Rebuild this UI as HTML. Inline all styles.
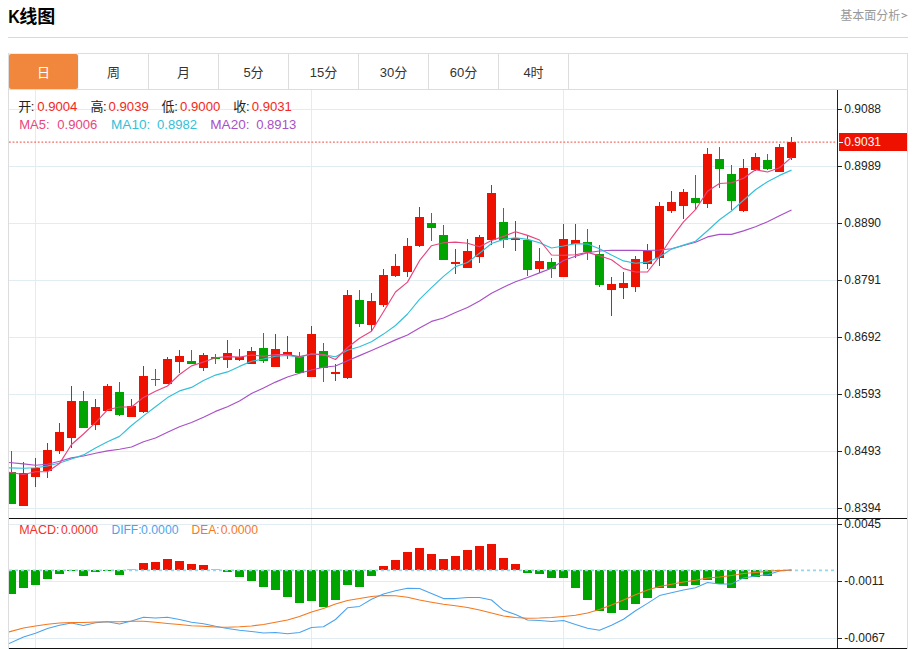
<!DOCTYPE html>
<html><head><meta charset="utf-8"><title>K线图</title>
<style>html,body{margin:0;padding:0;background:#fff;width:915px;height:649px;overflow:hidden;font-family:"Liberation Sans",sans-serif}</style>
</head><body>
<svg width="915" height="649" viewBox="0 0 915 649" style="position:absolute;left:0;top:0;display:block">
<defs>
<clipPath id="cm"><rect x="9" y="90" width="828" height="428"/></clipPath>
<clipPath id="cd"><rect x="9" y="519" width="828" height="129"/></clipPath>
</defs>
<rect width="915" height="649" fill="#fff"/>
<text x="8.30" y="23.40" font-family="Liberation Sans, sans-serif" font-size="18.5px" font-weight="bold" fill="#000" text-anchor="start" textLength="11.6" lengthAdjust="spacingAndGlyphs">K</text>
<text x="19.30" y="23.20" font-family="'Liberation Sans', 'Noto Sans CJK SC', sans-serif" font-size="18px" font-weight="bold" fill="#000" text-anchor="start">线图</text>
<text x="840.30" y="19.90" font-family="'Liberation Sans', 'Noto Sans CJK SC', sans-serif" font-size="12px" fill="#999" text-anchor="start">基本面分析</text>
<polyline points="901.6,13.2 906.6,15.5 901.6,17.8" fill="none" stroke="#999" stroke-width="1.1"/>
<g shape-rendering="crispEdges">
<rect x="8" y="37" width="900" height="1" fill="#d9d9d9"/>
<rect x="8.5" y="53.5" width="899" height="595" fill="none" stroke="#dddddd"/>
<rect x="8" y="89" width="900" height="1" fill="#dddddd"/>
<rect x="78" y="54" width="1" height="35" fill="#dddddd"/>
<rect x="148" y="54" width="1" height="35" fill="#dddddd"/>
<rect x="218" y="54" width="1" height="35" fill="#dddddd"/>
<rect x="288" y="54" width="1" height="35" fill="#dddddd"/>
<rect x="358" y="54" width="1" height="35" fill="#dddddd"/>
<rect x="428" y="54" width="1" height="35" fill="#dddddd"/>
<rect x="498" y="54" width="1" height="35" fill="#dddddd"/>
<rect x="568" y="54" width="1" height="35" fill="#dddddd"/>
</g>
<rect x="9" y="53" width="69" height="1" fill="#e6eef5" shape-rendering="crispEdges"/><rect x="78" y="54" width="1" height="35" fill="#eef3f7" shape-rendering="crispEdges"/><rect x="9" y="54" width="69" height="35" rx="2" fill="#f0873d"/>
<text x="37.00" y="76.60" font-family="'Liberation Sans', 'Noto Sans CJK SC', sans-serif" font-size="13px" fill="#fff" text-anchor="start">日</text>
<text x="107.00" y="76.60" font-family="'Liberation Sans', 'Noto Sans CJK SC', sans-serif" font-size="13px" fill="#333" text-anchor="start">周</text>
<text x="177.00" y="76.60" font-family="'Liberation Sans', 'Noto Sans CJK SC', sans-serif" font-size="13px" fill="#333" text-anchor="start">月</text>
<text x="243.38" y="77.00" font-family="Liberation Sans, sans-serif" font-size="13px" font-weight="normal" fill="#333" text-anchor="start">5</text>
<text x="250.61" y="76.60" font-family="'Liberation Sans', 'Noto Sans CJK SC', sans-serif" font-size="13px" fill="#333" text-anchor="start">分</text>
<text x="309.77" y="77.00" font-family="Liberation Sans, sans-serif" font-size="13px" font-weight="normal" fill="#333" text-anchor="start">15</text>
<text x="324.23" y="76.60" font-family="'Liberation Sans', 'Noto Sans CJK SC', sans-serif" font-size="13px" fill="#333" text-anchor="start">分</text>
<text x="379.77" y="77.00" font-family="Liberation Sans, sans-serif" font-size="13px" font-weight="normal" fill="#333" text-anchor="start">30</text>
<text x="394.23" y="76.60" font-family="'Liberation Sans', 'Noto Sans CJK SC', sans-serif" font-size="13px" fill="#333" text-anchor="start">分</text>
<text x="449.77" y="77.00" font-family="Liberation Sans, sans-serif" font-size="13px" font-weight="normal" fill="#333" text-anchor="start">60</text>
<text x="464.23" y="76.60" font-family="'Liberation Sans', 'Noto Sans CJK SC', sans-serif" font-size="13px" fill="#333" text-anchor="start">分</text>
<text x="523.38" y="77.00" font-family="Liberation Sans, sans-serif" font-size="13px" font-weight="normal" fill="#333" text-anchor="start">4</text>
<text x="530.62" y="76.60" font-family="'Liberation Sans', 'Noto Sans CJK SC', sans-serif" font-size="13px" fill="#333" text-anchor="start">时</text>
<g shape-rendering="crispEdges">
<rect x="9" y="109" width="828" height="1" fill="#e2ecf3"/>
<rect x="9" y="166" width="828" height="1" fill="#e2ecf3"/>
<rect x="9" y="223" width="828" height="1" fill="#e2ecf3"/>
<rect x="9" y="280" width="828" height="1" fill="#e2ecf3"/>
<rect x="9" y="337" width="828" height="1" fill="#e2ecf3"/>
<rect x="9" y="394" width="828" height="1" fill="#e2ecf3"/>
<rect x="9" y="451" width="828" height="1" fill="#e2ecf3"/>
<rect x="9" y="508" width="828" height="1" fill="#e2ecf3"/>
<rect x="9" y="524" width="828" height="1" fill="#e2ecf3"/>
<rect x="9" y="581" width="828" height="1" fill="#e2ecf3"/>
<rect x="9" y="638" width="828" height="1" fill="#e2ecf3"/>
<rect x="35" y="90" width="1" height="558" fill="#e2ecf3"/>
<rect x="311" y="90" width="1" height="558" fill="#e2ecf3"/>
<rect x="563" y="90" width="1" height="558" fill="#e2ecf3"/>
</g>
<g shape-rendering="crispEdges" clip-path="url(#cm)">
<rect x="11" y="451" width="1" height="53" fill="#00a400"/>
<rect x="7" y="472" width="9" height="32" fill="#00a400"/>
<rect x="23" y="462" width="1" height="44" fill="#ee1100"/>
<rect x="19" y="473" width="9" height="33" fill="#ee1100"/>
<rect x="35" y="458" width="1" height="29" fill="#ee1100"/>
<rect x="31" y="468" width="9" height="9" fill="#ee1100"/>
<rect x="47" y="443" width="1" height="35" fill="#ee1100"/>
<rect x="43" y="450" width="9" height="21" fill="#ee1100"/>
<rect x="59" y="423" width="1" height="31" fill="#ee1100"/>
<rect x="55" y="432" width="9" height="19" fill="#ee1100"/>
<rect x="71" y="386" width="1" height="62" fill="#ee1100"/>
<rect x="67" y="401" width="9" height="37" fill="#ee1100"/>
<rect x="83" y="391" width="1" height="37" fill="#00a400"/>
<rect x="79" y="401" width="9" height="27" fill="#00a400"/>
<rect x="95" y="399" width="1" height="31" fill="#ee1100"/>
<rect x="91" y="407" width="9" height="18" fill="#ee1100"/>
<rect x="107" y="384" width="1" height="27" fill="#ee1100"/>
<rect x="103" y="386" width="9" height="25" fill="#ee1100"/>
<rect x="119" y="382" width="1" height="34" fill="#00a400"/>
<rect x="115" y="392" width="9" height="23" fill="#00a400"/>
<rect x="131" y="399" width="1" height="18" fill="#ee1100"/>
<rect x="127" y="406" width="9" height="11" fill="#ee1100"/>
<rect x="143" y="366" width="1" height="47" fill="#ee1100"/>
<rect x="139" y="376" width="9" height="36" fill="#ee1100"/>
<rect x="155" y="369" width="1" height="17" fill="#00a400"/>
<rect x="151" y="379" width="9" height="1" fill="#00a400"/>
<rect x="167" y="357" width="1" height="27" fill="#ee1100"/>
<rect x="163" y="359" width="9" height="25" fill="#ee1100"/>
<rect x="179" y="350" width="1" height="23" fill="#ee1100"/>
<rect x="175" y="356" width="9" height="6" fill="#ee1100"/>
<rect x="191" y="350" width="1" height="14" fill="#00a400"/>
<rect x="187" y="361" width="9" height="3" fill="#00a400"/>
<rect x="203" y="353" width="1" height="18" fill="#ee1100"/>
<rect x="199" y="355" width="9" height="13" fill="#ee1100"/>
<rect x="215" y="354" width="1" height="10" fill="#00a400"/>
<rect x="211" y="357" width="9" height="2" fill="#00a400"/>
<rect x="227" y="340" width="1" height="28" fill="#ee1100"/>
<rect x="223" y="353" width="9" height="7" fill="#ee1100"/>
<rect x="239" y="349" width="1" height="12" fill="#ee1100"/>
<rect x="235" y="357" width="9" height="3" fill="#ee1100"/>
<rect x="251" y="347" width="1" height="17" fill="#ee1100"/>
<rect x="247" y="351" width="9" height="13" fill="#ee1100"/>
<rect x="263" y="333" width="1" height="30" fill="#00a400"/>
<rect x="259" y="348" width="9" height="13" fill="#00a400"/>
<rect x="275" y="334" width="1" height="33" fill="#ee1100"/>
<rect x="271" y="349" width="9" height="18" fill="#ee1100"/>
<rect x="287" y="336" width="1" height="23" fill="#ee1100"/>
<rect x="283" y="352" width="9" height="3" fill="#ee1100"/>
<rect x="299" y="352" width="1" height="21" fill="#00a400"/>
<rect x="295" y="356" width="9" height="17" fill="#00a400"/>
<rect x="311" y="326" width="1" height="51" fill="#ee1100"/>
<rect x="307" y="334" width="9" height="43" fill="#ee1100"/>
<rect x="323" y="343" width="1" height="39" fill="#00a400"/>
<rect x="319" y="351" width="9" height="17" fill="#00a400"/>
<rect x="335" y="364" width="1" height="17" fill="#ee1100"/>
<rect x="331" y="372" width="9" height="2" fill="#ee1100"/>
<rect x="347" y="290" width="1" height="89" fill="#ee1100"/>
<rect x="343" y="295" width="9" height="83" fill="#ee1100"/>
<rect x="359" y="290" width="1" height="37" fill="#00a400"/>
<rect x="355" y="300" width="9" height="24" fill="#00a400"/>
<rect x="371" y="293" width="1" height="38" fill="#ee1100"/>
<rect x="367" y="301" width="9" height="24" fill="#ee1100"/>
<rect x="383" y="269" width="1" height="38" fill="#ee1100"/>
<rect x="379" y="275" width="9" height="30" fill="#ee1100"/>
<rect x="395" y="254" width="1" height="23" fill="#ee1100"/>
<rect x="391" y="266" width="9" height="10" fill="#ee1100"/>
<rect x="407" y="238" width="1" height="39" fill="#ee1100"/>
<rect x="403" y="246" width="9" height="26" fill="#ee1100"/>
<rect x="419" y="207" width="1" height="40" fill="#ee1100"/>
<rect x="415" y="217" width="9" height="29" fill="#ee1100"/>
<rect x="431" y="213" width="1" height="28" fill="#00a400"/>
<rect x="427" y="223" width="9" height="5" fill="#00a400"/>
<rect x="443" y="225" width="1" height="35" fill="#00a400"/>
<rect x="439" y="235" width="9" height="25" fill="#00a400"/>
<rect x="455" y="249" width="1" height="25" fill="#ee1100"/>
<rect x="451" y="262" width="9" height="2" fill="#ee1100"/>
<rect x="467" y="239" width="1" height="29" fill="#ee1100"/>
<rect x="463" y="251" width="9" height="17" fill="#ee1100"/>
<rect x="479" y="235" width="1" height="28" fill="#ee1100"/>
<rect x="475" y="237" width="9" height="20" fill="#ee1100"/>
<rect x="491" y="185" width="1" height="60" fill="#ee1100"/>
<rect x="487" y="193" width="9" height="47" fill="#ee1100"/>
<rect x="503" y="208" width="1" height="40" fill="#00a400"/>
<rect x="499" y="222" width="9" height="18" fill="#00a400"/>
<rect x="515" y="221" width="1" height="30" fill="#ee1100"/>
<rect x="511" y="238" width="9" height="2" fill="#ee1100"/>
<rect x="527" y="236" width="1" height="40" fill="#00a400"/>
<rect x="523" y="240" width="9" height="30" fill="#00a400"/>
<rect x="539" y="248" width="1" height="25" fill="#ee1100"/>
<rect x="535" y="261" width="9" height="8" fill="#ee1100"/>
<rect x="551" y="258" width="1" height="20" fill="#00a400"/>
<rect x="547" y="262" width="9" height="7" fill="#00a400"/>
<rect x="563" y="224" width="1" height="53" fill="#ee1100"/>
<rect x="559" y="239" width="9" height="38" fill="#ee1100"/>
<rect x="575" y="224" width="1" height="34" fill="#ee1100"/>
<rect x="571" y="240" width="9" height="4" fill="#ee1100"/>
<rect x="587" y="229" width="1" height="31" fill="#00a400"/>
<rect x="583" y="242" width="9" height="10" fill="#00a400"/>
<rect x="599" y="245" width="1" height="42" fill="#00a400"/>
<rect x="595" y="254" width="9" height="31" fill="#00a400"/>
<rect x="611" y="277" width="1" height="39" fill="#ee1100"/>
<rect x="607" y="284" width="9" height="6" fill="#ee1100"/>
<rect x="623" y="272" width="1" height="27" fill="#ee1100"/>
<rect x="619" y="283" width="9" height="5" fill="#ee1100"/>
<rect x="635" y="256" width="1" height="36" fill="#ee1100"/>
<rect x="631" y="259" width="9" height="28" fill="#ee1100"/>
<rect x="647" y="244" width="1" height="25" fill="#ee1100"/>
<rect x="643" y="251" width="9" height="13" fill="#ee1100"/>
<rect x="659" y="202" width="1" height="64" fill="#ee1100"/>
<rect x="655" y="206" width="9" height="52" fill="#ee1100"/>
<rect x="671" y="191" width="1" height="22" fill="#ee1100"/>
<rect x="667" y="202" width="9" height="9" fill="#ee1100"/>
<rect x="683" y="189" width="1" height="30" fill="#ee1100"/>
<rect x="679" y="192" width="9" height="14" fill="#ee1100"/>
<rect x="695" y="175" width="1" height="35" fill="#00a400"/>
<rect x="691" y="198" width="9" height="5" fill="#00a400"/>
<rect x="707" y="148" width="1" height="60" fill="#ee1100"/>
<rect x="703" y="154" width="9" height="50" fill="#ee1100"/>
<rect x="719" y="147" width="1" height="41" fill="#00a400"/>
<rect x="715" y="159" width="9" height="10" fill="#00a400"/>
<rect x="731" y="165" width="1" height="45" fill="#00a400"/>
<rect x="727" y="174" width="9" height="27" fill="#00a400"/>
<rect x="743" y="159" width="1" height="53" fill="#ee1100"/>
<rect x="739" y="168" width="9" height="43" fill="#ee1100"/>
<rect x="755" y="153" width="1" height="18" fill="#ee1100"/>
<rect x="751" y="157" width="9" height="13" fill="#ee1100"/>
<rect x="767" y="154" width="1" height="16" fill="#00a400"/>
<rect x="763" y="160" width="9" height="9" fill="#00a400"/>
<rect x="779" y="144" width="1" height="28" fill="#ee1100"/>
<rect x="775" y="147" width="9" height="25" fill="#ee1100"/>
<rect x="791" y="137" width="1" height="23" fill="#ee1100"/>
<rect x="787" y="142" width="9" height="16" fill="#ee1100"/>
</g>
<polyline points="9.0,462.5 23.5,463.9 35.5,465.3 47.5,464.3 59.5,461.3 71.5,457.9 83.5,456.0 95.5,453.2 107.5,450.9 119.5,449.3 131.5,447.0 143.5,441.7 155.5,438.0 167.5,432.3 179.5,426.7 191.5,422.5 203.5,417.2 215.5,411.4 227.5,406.8 239.5,401.0 251.5,393.6 263.5,387.9 275.5,382.1 287.5,377.0 299.5,373.2 311.5,370.0 323.5,367.2 335.5,366.0 347.5,360.7 359.5,355.6 371.5,350.5 383.5,345.2 395.5,339.9 407.5,335.0 419.5,327.9 431.5,321.4 443.5,318.0 455.5,312.5 467.5,307.5 479.5,301.1 491.5,293.2 503.5,287.2 515.5,281.7 527.5,277.5 539.5,272.9 551.5,268.3 563.5,260.5 575.5,256.3 587.5,252.8 599.5,251.0 611.5,250.3 623.5,250.3 635.5,250.3 647.5,250.5 659.5,250.0 671.5,248.7 683.5,245.5 695.5,242.3 707.5,236.9 719.5,234.4 731.5,234.4 743.5,230.9 755.5,226.8 767.5,221.7 779.5,215.7 791.5,209.9" fill="none" stroke="#a950c6" stroke-width="1.15" stroke-linejoin="round" clip-path="url(#cm)"/>
<polyline points="9.0,467.8 23.5,468.3 35.5,467.8 47.5,466.0 59.5,463.0 71.5,459.0 83.5,454.9 95.5,447.9 107.5,441.7 119.5,436.4 131.5,425.5 143.5,415.9 155.5,406.8 167.5,397.6 179.5,390.9 191.5,387.4 203.5,380.5 215.5,375.1 227.5,371.9 239.5,366.4 251.5,361.3 263.5,359.0 275.5,356.2 287.5,355.5 299.5,357.2 311.5,354.0 323.5,354.9 335.5,356.8 347.5,350.3 359.5,346.8 371.5,341.7 383.5,334.1 395.5,325.5 407.5,314.0 419.5,299.3 431.5,287.7 443.5,276.4 455.5,266.6 467.5,262.5 479.5,253.2 491.5,243.5 503.5,239.4 515.5,237.7 527.5,239.4 539.5,242.8 551.5,248.0 563.5,246.0 575.5,243.6 587.5,244.0 599.5,248.7 611.5,255.1 623.5,260.9 635.5,263.2 647.5,262.1 659.5,257.0 671.5,249.1 683.5,245.1 695.5,241.2 707.5,230.7 719.5,219.8 731.5,211.0 743.5,200.2 755.5,189.8 767.5,181.7 779.5,175.4 791.5,170.1" fill="none" stroke="#33bfd8" stroke-width="1.15" stroke-linejoin="round" clip-path="url(#cm)"/>
<polyline points="9.0,472.2 23.5,474.5 35.5,471.7 47.5,471.7 59.5,463.6 71.5,444.5 83.5,434.0 95.5,422.7 107.5,409.8 119.5,407.0 131.5,407.0 143.5,397.4 155.5,391.3 167.5,386.0 179.5,374.5 191.5,365.9 203.5,362.0 215.5,357.8 227.5,356.6 239.5,357.1 251.5,355.0 263.5,356.2 275.5,354.6 287.5,354.6 299.5,356.5 311.5,354.0 323.5,354.5 335.5,359.5 347.5,347.5 359.5,338.3 371.5,331.3 383.5,311.7 395.5,292.0 407.5,282.1 419.5,260.7 431.5,245.7 443.5,242.8 455.5,242.1 467.5,243.3 479.5,246.8 491.5,240.5 503.5,236.4 515.5,231.7 527.5,235.4 539.5,240.0 551.5,255.0 563.5,255.2 575.5,254.7 587.5,252.4 599.5,255.8 611.5,259.8 623.5,268.6 635.5,272.0 647.5,272.0 659.5,256.3 671.5,237.8 683.5,221.8 695.5,209.7 707.5,191.2 719.5,183.5 731.5,182.8 743.5,178.2 755.5,169.7 767.5,172.0 779.5,167.8 791.5,157.4" fill="none" stroke="#e8457e" stroke-width="1.15" stroke-linejoin="round" clip-path="url(#cm)"/>
<line x1="9" y1="142.1" x2="837" y2="142.1" stroke="#f4483c" stroke-width="1.4" stroke-dasharray="1.8 1.8" opacity="0.8"/>
<g shape-rendering="crispEdges" clip-path="url(#cd)">
<rect x="7" y="570" width="9" height="24" fill="#00a400"/>
<rect x="19" y="570" width="9" height="18" fill="#00a400"/>
<rect x="31" y="570" width="9" height="15" fill="#00a400"/>
<rect x="43" y="570" width="9" height="9" fill="#00a400"/>
<rect x="55" y="570" width="9" height="4" fill="#00a400"/>
<rect x="67" y="570" width="9" height="1" fill="#00a400"/>
<rect x="79" y="570" width="9" height="6" fill="#00a400"/>
<rect x="91" y="570" width="9" height="2" fill="#00a400"/>
<rect x="103" y="570" width="9" height="1" fill="#00a400"/>
<rect x="115" y="570" width="9" height="5" fill="#00a400"/>
<rect x="127" y="569" width="9" height="1" fill="#f7a9a4"/>
<rect x="139" y="563" width="9" height="7" fill="#ee1100"/>
<rect x="151" y="562" width="9" height="8" fill="#ee1100"/>
<rect x="163" y="559" width="9" height="11" fill="#ee1100"/>
<rect x="175" y="561" width="9" height="9" fill="#ee1100"/>
<rect x="187" y="564" width="9" height="6" fill="#ee1100"/>
<rect x="199" y="565" width="9" height="5" fill="#ee1100"/>
<rect x="211" y="569" width="9" height="1" fill="#f7a9a4"/>
<rect x="223" y="570" width="9" height="2" fill="#00a400"/>
<rect x="235" y="570" width="9" height="7" fill="#00a400"/>
<rect x="247" y="570" width="9" height="11" fill="#00a400"/>
<rect x="259" y="570" width="9" height="17" fill="#00a400"/>
<rect x="271" y="570" width="9" height="20" fill="#00a400"/>
<rect x="283" y="570" width="9" height="27" fill="#00a400"/>
<rect x="295" y="570" width="9" height="33" fill="#00a400"/>
<rect x="307" y="570" width="9" height="31" fill="#00a400"/>
<rect x="319" y="570" width="9" height="37" fill="#00a400"/>
<rect x="331" y="570" width="9" height="30" fill="#00a400"/>
<rect x="343" y="570" width="9" height="15" fill="#00a400"/>
<rect x="355" y="570" width="9" height="17" fill="#00a400"/>
<rect x="367" y="570" width="9" height="6" fill="#00a400"/>
<rect x="379" y="566" width="9" height="4" fill="#ee1100"/>
<rect x="391" y="560" width="9" height="10" fill="#ee1100"/>
<rect x="403" y="552" width="9" height="18" fill="#ee1100"/>
<rect x="415" y="548" width="9" height="22" fill="#ee1100"/>
<rect x="427" y="554" width="9" height="16" fill="#ee1100"/>
<rect x="439" y="559" width="9" height="11" fill="#ee1100"/>
<rect x="451" y="556" width="9" height="14" fill="#ee1100"/>
<rect x="463" y="550" width="9" height="20" fill="#ee1100"/>
<rect x="475" y="546" width="9" height="24" fill="#ee1100"/>
<rect x="487" y="544" width="9" height="26" fill="#ee1100"/>
<rect x="499" y="558" width="9" height="12" fill="#ee1100"/>
<rect x="511" y="564" width="9" height="6" fill="#ee1100"/>
<rect x="523" y="570" width="9" height="3" fill="#00a400"/>
<rect x="535" y="570" width="9" height="4" fill="#00a400"/>
<rect x="547" y="570" width="9" height="8" fill="#00a400"/>
<rect x="559" y="570" width="9" height="8" fill="#00a400"/>
<rect x="571" y="570" width="9" height="18" fill="#00a400"/>
<rect x="583" y="570" width="9" height="30" fill="#00a400"/>
<rect x="595" y="570" width="9" height="41" fill="#00a400"/>
<rect x="607" y="570" width="9" height="43" fill="#00a400"/>
<rect x="619" y="570" width="9" height="40" fill="#00a400"/>
<rect x="631" y="570" width="9" height="34" fill="#00a400"/>
<rect x="643" y="570" width="9" height="28" fill="#00a400"/>
<rect x="655" y="570" width="9" height="18" fill="#00a400"/>
<rect x="667" y="570" width="9" height="18" fill="#00a400"/>
<rect x="679" y="570" width="9" height="16" fill="#00a400"/>
<rect x="691" y="570" width="9" height="15" fill="#00a400"/>
<rect x="703" y="570" width="9" height="10" fill="#00a400"/>
<rect x="715" y="570" width="9" height="14" fill="#00a400"/>
<rect x="727" y="570" width="9" height="18" fill="#00a400"/>
<rect x="739" y="570" width="9" height="9" fill="#00a400"/>
<rect x="751" y="570" width="9" height="7" fill="#00a400"/>
<rect x="763" y="570" width="9" height="6" fill="#00a400"/>
<rect x="775" y="570" width="9" height="1" fill="#00a400"/>
</g>
<line x1="9" y1="570.4" x2="836" y2="570.4" stroke="#93d6f0" stroke-width="1.6" stroke-dasharray="3 3"/>
<polyline points="9.0,643.6 23.5,637.1 35.5,633.2 47.5,628.6 59.5,625.2 71.5,622.9 83.5,625.4 95.5,622.7 107.5,621.8 119.5,624.0 131.5,621.0 143.5,617.2 155.5,618.1 167.5,617.2 179.5,619.5 191.5,622.2 203.5,623.8 215.5,626.3 227.5,628.4 239.5,630.2 251.5,631.4 263.5,633.0 275.5,632.5 287.5,633.7 299.5,632.5 311.5,627.5 323.5,626.8 335.5,619.5 347.5,607.8 359.5,606.4 371.5,599.3 383.5,594.0 395.5,590.8 407.5,588.2 419.5,588.5 431.5,593.5 443.5,598.6 455.5,598.6 467.5,597.4 479.5,597.4 491.5,600.0 503.5,610.3 515.5,614.6 527.5,619.9 539.5,620.4 551.5,621.5 563.5,620.4 575.5,624.5 587.5,628.2 599.5,630.2 611.5,625.2 623.5,619.2 635.5,610.7 647.5,603.4 659.5,595.6 671.5,592.8 683.5,590.1 695.5,587.8 707.5,582.5 719.5,584.1 731.5,583.9 743.5,577.9 755.5,575.9 767.5,574.7 779.5,571.0 791.5,570.1" fill="none" stroke="#4aa3ee" stroke-width="1.05" stroke-linejoin="round" clip-path="url(#cd)"/>
<polyline points="9.0,631.9 23.5,628.0 35.5,626.1 47.5,624.3 59.5,623.1 71.5,622.4 83.5,622.4 95.5,622.0 107.5,621.8 119.5,621.8 131.5,621.3 143.5,621.3 155.5,622.2 167.5,623.4 179.5,624.5 191.5,625.7 203.5,626.3 215.5,627.0 227.5,627.3 239.5,626.8 251.5,625.9 263.5,624.5 275.5,622.2 287.5,619.9 299.5,616.5 311.5,611.9 323.5,608.4 335.5,603.9 347.5,600.4 359.5,598.6 371.5,596.5 383.5,595.4 395.5,595.8 407.5,597.2 419.5,600.0 431.5,602.2 443.5,604.3 455.5,605.7 467.5,607.5 479.5,610.0 491.5,613.0 503.5,616.0 515.5,617.6 527.5,618.3 539.5,618.1 551.5,617.6 563.5,616.5 575.5,615.3 587.5,613.0 599.5,609.6 611.5,605.0 623.5,600.0 635.5,594.7 647.5,590.1 659.5,586.6 671.5,584.3 683.5,582.0 695.5,580.2 707.5,578.1 719.5,577.0 731.5,575.6 743.5,573.6 755.5,572.4 767.5,571.3 779.5,570.6 791.5,570.1" fill="none" stroke="#f5781e" stroke-width="1.05" stroke-linejoin="round" clip-path="url(#cd)"/>
<g shape-rendering="crispEdges">
<rect x="837" y="90" width="1" height="559" fill="#222"/>
<rect x="9" y="518" width="898" height="1" fill="#111"/>
<rect x="9" y="648" width="898" height="1" fill="#111"/>
<rect x="838" y="109" width="4" height="1" fill="#222"/>
<rect x="838" y="166" width="4" height="1" fill="#222"/>
<rect x="838" y="223" width="4" height="1" fill="#222"/>
<rect x="838" y="280" width="4" height="1" fill="#222"/>
<rect x="838" y="337" width="4" height="1" fill="#222"/>
<rect x="838" y="394" width="4" height="1" fill="#222"/>
<rect x="838" y="451" width="4" height="1" fill="#222"/>
<rect x="838" y="508" width="4" height="1" fill="#222"/>
<rect x="838" y="524" width="4" height="1" fill="#222"/>
<rect x="838" y="581" width="4" height="1" fill="#222"/>
<rect x="838" y="638" width="4" height="1" fill="#222"/>
<rect x="839" y="133" width="68" height="18" fill="#ee1100"/>
<rect x="839" y="142" width="4" height="1" fill="#fff"/>
</g>
<text x="844.30" y="113.40" font-family="Liberation Sans, sans-serif" font-size="12px" font-weight="normal" fill="#222" text-anchor="start">0.9088</text>
<text x="844.30" y="170.40" font-family="Liberation Sans, sans-serif" font-size="12px" font-weight="normal" fill="#222" text-anchor="start">0.8989</text>
<text x="844.30" y="227.40" font-family="Liberation Sans, sans-serif" font-size="12px" font-weight="normal" fill="#222" text-anchor="start">0.8890</text>
<text x="844.30" y="284.40" font-family="Liberation Sans, sans-serif" font-size="12px" font-weight="normal" fill="#222" text-anchor="start">0.8791</text>
<text x="844.30" y="341.40" font-family="Liberation Sans, sans-serif" font-size="12px" font-weight="normal" fill="#222" text-anchor="start">0.8692</text>
<text x="844.30" y="398.40" font-family="Liberation Sans, sans-serif" font-size="12px" font-weight="normal" fill="#222" text-anchor="start">0.8593</text>
<text x="844.30" y="455.40" font-family="Liberation Sans, sans-serif" font-size="12px" font-weight="normal" fill="#222" text-anchor="start">0.8493</text>
<text x="844.30" y="512.40" font-family="Liberation Sans, sans-serif" font-size="12px" font-weight="normal" fill="#222" text-anchor="start">0.8394</text>
<text x="844.30" y="528.40" font-family="Liberation Sans, sans-serif" font-size="12px" font-weight="normal" fill="#222" text-anchor="start">0.0045</text>
<text x="844.30" y="585.40" font-family="Liberation Sans, sans-serif" font-size="12px" font-weight="normal" fill="#222" text-anchor="start">-0.0011</text>
<text x="844.30" y="642.40" font-family="Liberation Sans, sans-serif" font-size="12px" font-weight="normal" fill="#222" text-anchor="start">-0.0067</text>
<text x="844.30" y="146.40" font-family="Liberation Sans, sans-serif" font-size="12px" font-weight="normal" fill="#fff" text-anchor="start">0.9031</text>
<text x="18.20" y="110.70" font-family="'Liberation Sans', 'Noto Sans CJK SC', sans-serif" font-size="13px" fill="#222" text-anchor="start">开</text>
<text x="30.80" y="110.60" font-family="Liberation Sans, sans-serif" font-size="13px" font-weight="normal" fill="#222" text-anchor="start">:</text>
<text x="37.20" y="110.80" font-family="Liberation Sans, sans-serif" font-size="13px" font-weight="normal" fill="#f2281c" text-anchor="start" textLength="40.2" lengthAdjust="spacingAndGlyphs">0.9004</text>
<text x="90.40" y="110.70" font-family="'Liberation Sans', 'Noto Sans CJK SC', sans-serif" font-size="13px" fill="#222" text-anchor="start">高</text>
<text x="103.00" y="110.60" font-family="Liberation Sans, sans-serif" font-size="13px" font-weight="normal" fill="#222" text-anchor="start">:</text>
<text x="108.60" y="110.80" font-family="Liberation Sans, sans-serif" font-size="13px" font-weight="normal" fill="#f2281c" text-anchor="start" textLength="40.2" lengthAdjust="spacingAndGlyphs">0.9039</text>
<text x="161.60" y="110.70" font-family="'Liberation Sans', 'Noto Sans CJK SC', sans-serif" font-size="13px" fill="#222" text-anchor="start">低</text>
<text x="174.20" y="110.60" font-family="Liberation Sans, sans-serif" font-size="13px" font-weight="normal" fill="#222" text-anchor="start">:</text>
<text x="180.10" y="110.80" font-family="Liberation Sans, sans-serif" font-size="13px" font-weight="normal" fill="#f2281c" text-anchor="start" textLength="40.2" lengthAdjust="spacingAndGlyphs">0.9000</text>
<text x="233.30" y="110.70" font-family="'Liberation Sans', 'Noto Sans CJK SC', sans-serif" font-size="13px" fill="#222" text-anchor="start">收</text>
<text x="245.90" y="110.60" font-family="Liberation Sans, sans-serif" font-size="13px" font-weight="normal" fill="#222" text-anchor="start">:</text>
<text x="251.70" y="110.80" font-family="Liberation Sans, sans-serif" font-size="13px" font-weight="normal" fill="#f2281c" text-anchor="start" textLength="40.2" lengthAdjust="spacingAndGlyphs">0.9031</text>
<text x="19.20" y="128.50" font-family="Liberation Sans, sans-serif" font-size="13px" font-weight="normal" fill="#e8457e" text-anchor="start">MA5:</text>
<text x="57.30" y="128.50" font-family="Liberation Sans, sans-serif" font-size="13px" font-weight="normal" fill="#e8457e" text-anchor="start" textLength="40.0" lengthAdjust="spacingAndGlyphs">0.9006</text>
<text x="111.00" y="128.50" font-family="Liberation Sans, sans-serif" font-size="13px" font-weight="normal" fill="#33bfd8" text-anchor="start" textLength="39.3" lengthAdjust="spacingAndGlyphs">MA10:</text>
<text x="157.00" y="128.50" font-family="Liberation Sans, sans-serif" font-size="13px" font-weight="normal" fill="#33bfd8" text-anchor="start" textLength="40.0" lengthAdjust="spacingAndGlyphs">0.8982</text>
<text x="210.30" y="128.50" font-family="Liberation Sans, sans-serif" font-size="13px" font-weight="normal" fill="#a950c6" text-anchor="start" textLength="39.3" lengthAdjust="spacingAndGlyphs">MA20:</text>
<text x="256.20" y="128.50" font-family="Liberation Sans, sans-serif" font-size="13px" font-weight="normal" fill="#a950c6" text-anchor="start" textLength="40.0" lengthAdjust="spacingAndGlyphs">0.8913</text>
<text x="19.20" y="534.00" font-family="Liberation Sans, sans-serif" font-size="12px" font-weight="normal" fill="#f2332a" text-anchor="start" textLength="40.3" lengthAdjust="spacingAndGlyphs">MACD:</text>
<text x="60.90" y="534.00" font-family="Liberation Sans, sans-serif" font-size="12px" font-weight="normal" fill="#f2332a" text-anchor="start" textLength="37.2" lengthAdjust="spacingAndGlyphs">0.0000</text>
<text x="111.50" y="534.00" font-family="Liberation Sans, sans-serif" font-size="12px" font-weight="normal" fill="#4aa3ee" text-anchor="start">DIFF:</text>
<text x="141.10" y="534.00" font-family="Liberation Sans, sans-serif" font-size="12px" font-weight="normal" fill="#4aa3ee" text-anchor="start" textLength="37.4" lengthAdjust="spacingAndGlyphs">0.0000</text>
<text x="191.60" y="534.00" font-family="Liberation Sans, sans-serif" font-size="12px" font-weight="normal" fill="#f5781e" text-anchor="start">DEA:</text>
<text x="220.70" y="534.00" font-family="Liberation Sans, sans-serif" font-size="12px" font-weight="normal" fill="#f5781e" text-anchor="start" textLength="37.4" lengthAdjust="spacingAndGlyphs">0.0000</text>
</svg>
</body></html>
